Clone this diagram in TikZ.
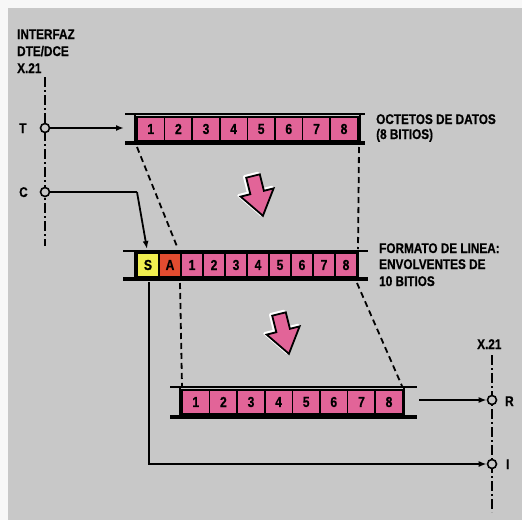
\documentclass[tikz,border=0pt]{standalone}
\usepackage{fontspec}
\setmainfont{Liberation Sans}[FakeStretch=0.84, BoldFeatures={FakeBold=0.5}]
\usetikzlibrary{arrows.meta}
\definecolor{bg}{RGB}{200,200,200}
\definecolor{cellpink}{RGB}{226,100,152}
\definecolor{cellyellow}{RGB}{240,238,80}
\definecolor{cellred}{RGB}{226,76,48}
\begin{document}
\begin{tikzpicture}[x=1pt,y=-1pt,
  lbl/.style={font=\fontsize{14}{16}\selectfont\bfseries, inner sep=0pt, anchor=base west},
  cell/.style={draw=black, line width=1.6pt, minimum height=24pt, inner sep=0pt, font=\fontsize{14.5}{16}\selectfont\bfseries},
  thinbar/.style={line width=2.2pt},
  thickbar/.style={line width=4.5pt},
  conn/.style={line width=1.8pt, -{Latex[length=8pt,width=6pt]}},
  plain/.style={line width=1.8pt},
  dashconn/.style={line width=1.8pt, dash pattern=on 6pt off 4pt},
  axis/.style={line width=2pt, dash pattern=on 10pt off 3pt on 2pt off 3pt},
  port/.style={circle, draw=black, fill=bg, line width=1.6pt, minimum size=9pt, inner sep=0pt},
  bigarrow/.style={fill=cellpink, draw=black, line width=1.8pt, line join=miter}
]
\useasboundingbox (0,0) rectangle (522,520);
\fill[white!94!gray] (0,0) rectangle (522,520);
\fill[bg] (8,8) rectangle (522,520);

% ---- left interface
\draw[axis] (45,77) -- (45,246);
\node[port] (T) at (45,128) {};
\node[port] (C) at (45,192) {};
\node[lbl] (tl) at (19,133) {T};
\node[lbl] (cl) at (19,197) {C};
\node[lbl] (h1) at (17,39) {INTERFAZ};
\node[lbl] (h2) at (17,56) {DTE/DCE};
\node[lbl] (h3) at (17,73) {X.21};

% ---- right interface
\draw[axis] (492,355) -- (492,512);
\node[port] (R) at (492,400) {};
\node[port] (I) at (492,464) {};
\node[lbl] (rl) at (505,406) {R};
\node[lbl] (il) at (506,469) {I};
\node[lbl] (x2) at (477,349) {X.21};

% ---- top frame (octets)
\draw[thinbar] (125,114) -- (365,114);
\draw[thickbar] (125,143) -- (365,143);
\draw[plain] (135,114) -- (135,143);
\draw[plain] (360,114) -- (360,143);
\foreach \i in {1,...,8}{
  \node[cell, fill=cellpink, minimum width=27.6pt] (a\i) at ({137+27.6*(\i-0.5)},129) {\i};
}
\node[lbl] (o1) at (376,124) {OCTETOS DE DATOS};
\node[lbl] (o2) at (376,139) {(8 BITIOS)};

% ---- middle frame (line format)
\draw[thinbar] (123,251) -- (368,251);
\draw[thickbar] (123,279) -- (368,279);
\draw[plain] (135,251) -- (135,279);
\draw[plain] (358,251) -- (358,279);
\node[cell, fill=cellyellow, minimum width=22pt] (bS) at (148,265) {S};
\node[cell, fill=cellred, minimum width=22pt] (bA) at (170,265) {A};
\foreach \i in {1,...,8}{
  \node[cell, fill=cellpink, minimum width=22pt] (b\i) at ({181+22*(\i-0.5)},265) {\i};
}
\node[lbl] (f1) at (379,253) {FORMATO DE LINEA:};
\node[lbl] (f2) at (379,269) {ENVOLVENTES DE};
\node[lbl] (f3) at (379,286) {10 BITIOS};

% ---- bottom frame
\draw[thinbar] (170,387) -- (417,387);
\draw[thickbar] (170,417) -- (417,417);
\draw[plain] (180,387) -- (180,417);
\draw[plain] (404,387) -- (404,417);
\foreach \i in {1,...,8}{
  \node[cell, fill=cellpink, minimum width=27.6pt] (c\i) at ({182+27.6*(\i-0.5)},402) {\i};
}

% ---- connectors
\coordinate (tin) at (124,128);
\draw[conn] (T) -- (tin);
\coordinate (cbend) at (137,192);
\coordinate (cin) at (147,249);
\draw[plain] (C) -- (cbend);
\draw[conn] (cbend) -- (cin);
\coordinate (sdown) at (149,282);
\coordinate (icorner) at (149,464);
\draw[conn] (sdown) -- (icorner) -- (I);
\coordinate (rout) at (419,400);
\draw[conn] (rout) -- (R);

% ---- dashed mapping lines
\draw[dashconn] (137,147) -- (178,249);
\draw[dashconn] (359,147) -- (358,249);
\draw[dashconn] (180,283) -- (182,386);
\draw[dashconn] (357,283) -- (402,386);

% ---- pink arrows
\begin{scope}[shift={(253,176)}, rotate=14]
  \draw[white, line width=3pt, line join=round, shift={(-1.5,-1.5)}] (-7,0) -- (7,0) -- (7,17) -- (17,17) -- (0,41) -- (-17,17) -- (-7,17) -- cycle;
  \draw[bigarrow] (-7,0) -- (7,0) -- (7,17) -- (17,17) -- (0,41) -- (-17,17) -- (-7,17) -- cycle;
\end{scope}
\begin{scope}[shift={(279,314)}, rotate=14]
  \draw[white, line width=3pt, line join=round, shift={(-1.5,-1.5)}] (-7,0) -- (7,0) -- (7,17) -- (17,17) -- (0,41) -- (-17,17) -- (-7,17) -- cycle;
  \draw[bigarrow] (-7,0) -- (7,0) -- (7,17) -- (17,17) -- (0,41) -- (-17,17) -- (-7,17) -- cycle;
\end{scope}
\end{tikzpicture}
\end{document}
